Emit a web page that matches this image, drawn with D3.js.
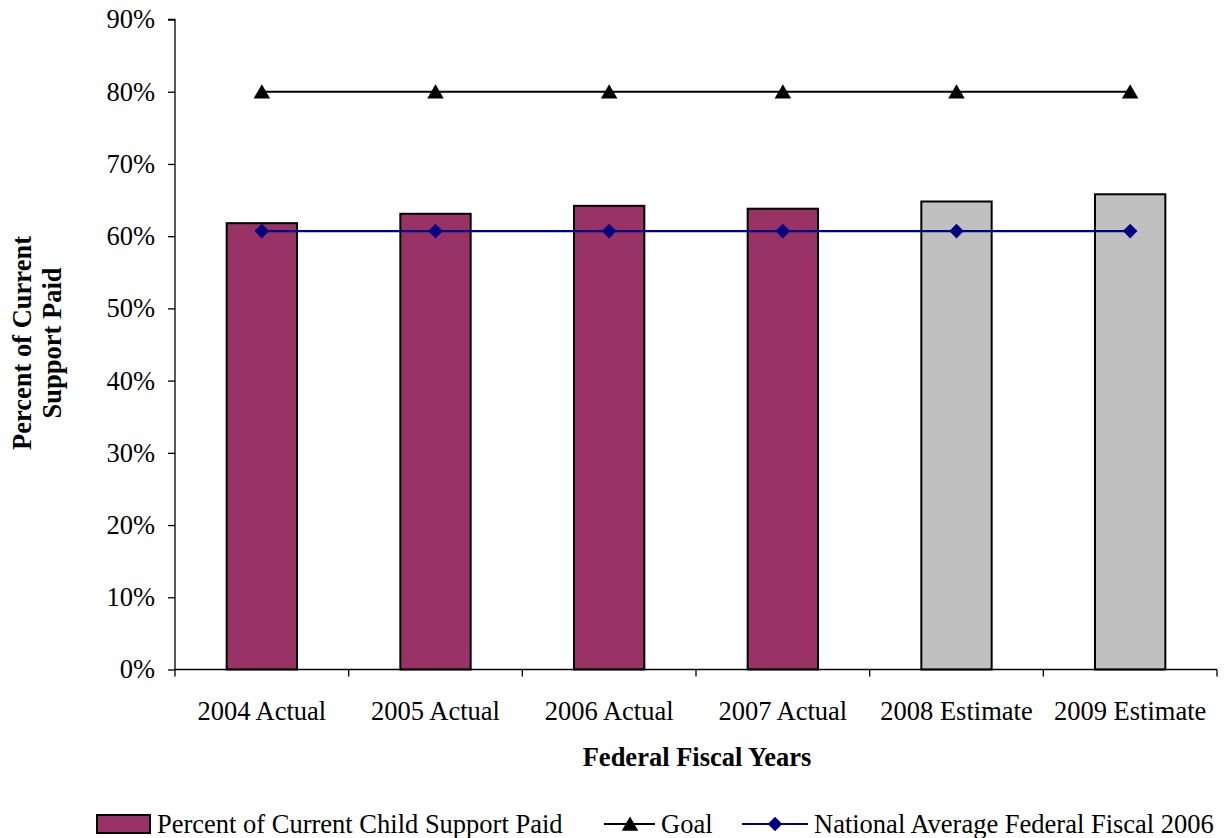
<!DOCTYPE html>
<html>
<head>
<meta charset="utf-8">
<script src="https://cdn.jsdelivr.net/npm/d3@7"></script>
<style>
  html, body { margin: 0; padding: 0; background: #fff; }
  svg { display: block; font-family: "Liberation Serif", "Times New Roman", serif; }
</style>
</head>
<body>
<svg id="chart" width="1230" height="838"></svg>
<script>
// Fiscal years shown on the x axis
const categories = ["2004 Actual", "2005 Actual", "2006 Actual", "2007 Actual", "2008 Estimate", "2009 Estimate"];
// Percent of current child support paid (actual vs. estimate)
const paidValues = [61.8, 63.1, 64.2, 63.8, 64.8, 65.8];
const isEstimate = [false, false, false, false, true, true];
// Goal line and national average reference
const goalValues = [80, 80, 80, 80, 80, 80];
const nationalAvgValues = [60.7, 60.7, 60.7, 60.7, 60.7, 60.7];
// Y axis ticks
const yTicks = [0, 10, 20, 30, 40, 50, 60, 70, 80, 90];

const FS = 26.5;
const svg = d3.select("#chart");
const margin = { left: 175, right: 13, top: 19.5, bottom: 168.5 };
const W = 1230, H = 838;
const plotW = W - margin.left - margin.right;
const plotH = H - margin.top - margin.bottom;

const x = d3.scaleBand().domain(categories).range([0, plotW]).paddingInner(0).paddingOuter(0);
const y = d3.scaleLinear().domain([0, 90]).range([plotH, 0]);

const g = svg.append("g").attr("transform", `translate(${margin.left},${margin.top})`);

// Bars
const barW = x.bandwidth() * 0.405;
g.selectAll("rect.bar")
  .data(categories)
  .join("rect")
  .attr("class", "bar")
  .attr("x", d => x(d) + (x.bandwidth() - barW) / 2)
  .attr("y", (d, i) => y(paidValues[i]))
  .attr("width", barW)
  .attr("height", (d, i) => y(0) - y(paidValues[i]))
  .attr("fill", (d, i) => isEstimate[i] ? "#C0C0C0" : "#993366")
  .attr("stroke", "#000")
  .attr("stroke-width", 2);

// Y axis
const yAxis = d3.axisLeft(y).tickValues(yTicks).tickFormat(d => d + "%").tickSize(7).tickPadding(13);
const yg = g.append("g").call(yAxis);
yg.attr("font-size", FS).attr("font-family", "Liberation Serif, Times New Roman, serif");
yg.select(".domain").attr("stroke", "#000").attr("stroke-width", 1.3).attr("d", `M0,${plotH}V0H-7`);
yg.selectAll(".tick line").attr("stroke", "#000").attr("stroke-width", 1.3);
yg.selectAll(".tick text").attr("font-size", FS).attr("fill", "#000");

// X axis with ticks at category boundaries
const xg = g.append("g").attr("transform", `translate(0,${plotH})`);
xg.append("line").attr("x1", 0).attr("x2", plotW).attr("y1", 0).attr("y2", 0)
  .attr("stroke", "#000").attr("stroke-width", 1.3);
const boundaries = categories.map(c => x(c)).concat([plotW]);
xg.selectAll("line.tk").data(boundaries).join("line").attr("class", "tk")
  .attr("x1", d => d).attr("x2", d => d).attr("y1", 0).attr("y2", 7)
  .attr("stroke", "#000").attr("stroke-width", 1.3);
xg.selectAll("text.cat").data(categories).join("text").attr("class", "cat")
  .attr("x", d => x(d) + x.bandwidth() / 2)
  .attr("y", 50)
  .attr("text-anchor", "middle")
  .attr("font-size", FS)
  .text(d => d);

// Goal line with triangle markers
const lineGen = d3.line().x((d, i) => x(categories[i]) + x.bandwidth() / 2).y(d => y(d));
g.append("path").datum(goalValues).attr("d", lineGen)
  .attr("fill", "none").attr("stroke", "#000").attr("stroke-width", 2);
const tri = d3.symbol().type(d3.symbolTriangle).size(118);
g.selectAll("path.goalpt").data(goalValues).join("path").attr("class", "goalpt")
  .attr("d", tri)
  .attr("transform", (d, i) => `translate(${x(categories[i]) + x.bandwidth() / 2},${y(d) + 2})`)
  .attr("fill", "#000");

// National average line with diamond markers
g.append("path").datum(nationalAvgValues).attr("d", lineGen)
  .attr("fill", "none").attr("stroke", "#000080").attr("stroke-width", 2.2);
const dia = d3.symbol().type(d3.symbolDiamond2).size(135);
g.selectAll("path.natpt").data(nationalAvgValues).join("path").attr("class", "natpt")
  .attr("d", dia)
  .attr("transform", (d, i) => `translate(${x(categories[i]) + x.bandwidth() / 2},${y(d)})`)
  .attr("fill", "#000080");

// Axis titles
svg.append("text").attr("x", 697).attr("y", 766)
  .attr("text-anchor", "middle").attr("font-size", FS).attr("font-weight", "bold")
  .text("Federal Fiscal Years");
const yt = svg.append("text").attr("transform", "translate(31,343) rotate(-90)")
  .attr("text-anchor", "middle").attr("font-size", FS).attr("font-weight", "bold");
yt.append("tspan").attr("x", 0).attr("dy", 0).text("Percent of Current");
yt.append("tspan").attr("x", 0).attr("dy", 30).text("Support Paid");

// Legend
const lg = svg.append("g").attr("font-size", FS);
lg.append("rect").attr("x", 97).attr("y", 815).attr("width", 53).attr("height", 18)
  .attr("fill", "#993366").attr("stroke", "#000").attr("stroke-width", 2);
lg.append("text").attr("x", 157).attr("y", 833).text("Percent of Current Child Support Paid");
lg.append("line").attr("x1", 604).attr("x2", 655).attr("y1", 824).attr("y2", 824)
  .attr("stroke", "#000").attr("stroke-width", 2);
lg.append("path").attr("d", tri).attr("transform", "translate(630,826)").attr("fill", "#000");
lg.append("text").attr("x", 661).attr("y", 833).text("Goal");
lg.append("line").attr("x1", 742).attr("x2", 808).attr("y1", 824).attr("y2", 824)
  .attr("stroke", "#000080").attr("stroke-width", 2.2);
lg.append("path").attr("d", dia).attr("transform", "translate(775,824)").attr("fill", "#000080");
lg.append("text").attr("x", 814).attr("y", 833).text("National Average Federal Fiscal 2006");
</script>
</body>
</html>
